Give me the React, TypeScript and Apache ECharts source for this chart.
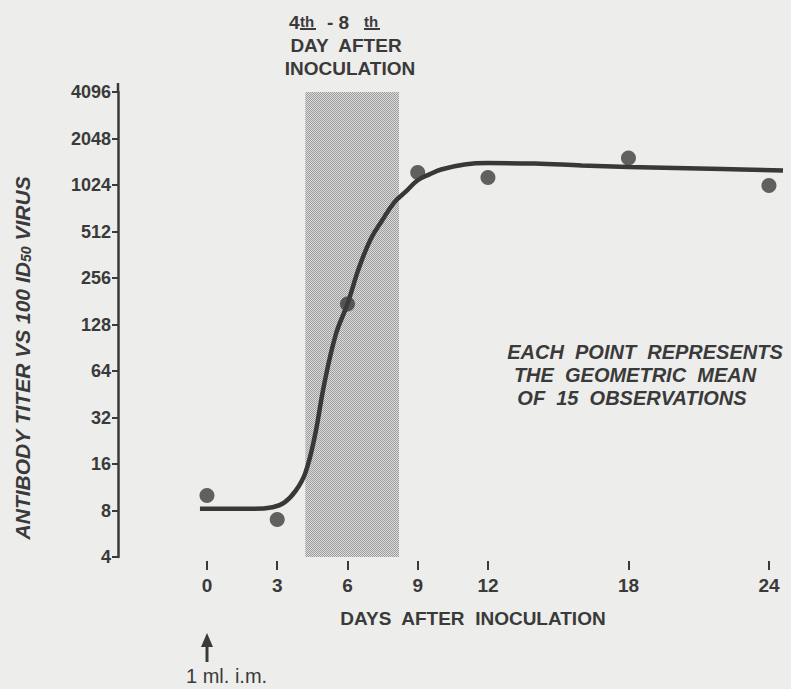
import React, { useEffect, useRef } from "react";
import * as echarts from "echarts";

// Observed geometric-mean titers
const days = [0, 3, 6, 9, 12, 18, 24];
const titers = [10, 7, 174, 1234, 1145, 1530, 1016];

// Hand-drawn smooth curve
const curveDays = [-0.3, 1, 2, 2.8, 3.3, 3.8, 4.2, 4.6, 5, 5.5, 6, 6.5, 7, 7.5, 8, 8.5, 9, 9.5, 10, 11, 12, 14, 16, 18, 20, 22, 24.6];
const curveTiters = [8.2, 8.2, 8.2, 8.4, 9.0, 10.8, 14, 24, 52, 110, 174, 300, 460, 610, 790, 930, 1100, 1200, 1290, 1390, 1420, 1410, 1370, 1340, 1320, 1300, 1270];

// Shaded period (4th-8th day)
const shadedDays = [4.2, 8.2];

// Axis ticks
const xTickDays = [0, 3, 6, 9, 12, 18, 24];
const yTickTiters = [4, 8, 16, 32, 64, 128, 256, 512, 1024, 2048, 4096];
const yMin = 4;
const yMax = 4096;

const INK = "#3a3a3a";
const FONT = "Liberation Sans";

function makePattern() {
  const c = document.createElement("canvas");
  c.width = 2;
  c.height = 2;
  const ctx = c.getContext("2d");
  if (ctx) {
    ctx.fillStyle = "#dcdcdc";
    ctx.fillRect(0, 0, 2, 2);
    ctx.fillStyle = "#9c9c9c";
    ctx.fillRect(0, 0, 1, 1);
    ctx.fillRect(1, 1, 1, 1);
  }
  return { image: c, repeat: "repeat" } as any;
}

export default function App() {
  const ref = useRef<HTMLDivElement>(null);

  useEffect(() => {
    if (!ref.current) return;
    const chart = echarts.init(ref.current, undefined, { renderer: "svg" });

    const txt = (x: number, y: number, text: string, size: number, extra: any = {}) => ({
      type: "text",
      x,
      y,
      style: {
        text,
        fontSize: size,
        fontWeight: "bold",
        fontFamily: FONT,
        fill: INK,
        textAlign: "center",
        textVerticalAlign: "middle",
        ...extra,
      },
    });

    const option: any = {
      animation: false,
      backgroundColor: "#ededeb",
      grid: {
        left: 118,
        right: 8,
        top: 92,
        bottom: 132,
        outerBoundsMode: "none",
      },
      xAxis: {
        type: "value",
        min: -3.8,
        max: 24.6,
        offset: 4,
        axisLine: { show: false, onZero: false },
        splitLine: { show: false },
        axisTick: {
          show: true,
          customValues: xTickDays,
          length: 9,
          lineStyle: { color: INK, width: 2 },
        },
        axisLabel: {
          customValues: xTickDays,
          margin: 15,
          fontSize: 19,
          fontWeight: "bold",
          fontFamily: FONT,
          color: INK,
        },
      },
      yAxis: {
        type: "log",
        logBase: 2,
        min: yMin,
        max: yMax,
        axisLine: { show: true, onZero: false, lineStyle: { color: INK, width: 2.5 } },
        axisTick: { show: true, customValues: yTickTiters, length: 6, lineStyle: { color: INK, width: 2 } },
        splitLine: { show: false },
        minorTick: { show: false },
        axisLabel: {
          customValues: yTickTiters,
          margin: 7,
          fontSize: 18,
          fontWeight: "bold",
          fontFamily: FONT,
          color: INK,
          formatter: (v: number) => String(Math.round(v)),
        },
      },
      series: [
        {
          type: "line",
          data: [],
          z: 1,
          silent: true,
          markArea: {
            silent: true,
            itemStyle: { color: makePattern(), opacity: 1 },
            data: [[{ xAxis: shadedDays[0], yAxis: yMin }, { xAxis: shadedDays[1], yAxis: yMax }]],
          },
        },
        {
          type: "line",
          data: curveDays.map((d, i) => [d, curveTiters[i]]),
          smooth: 0.4,
          showSymbol: false,
          symbol: "none",
          z: 3,
          lineStyle: { color: "#383838", width: 4.5 },
        },
        {
          type: "scatter",
          data: days.map((d, i) => [d, titers[i]]),
          symbolSize: 15,
          z: 4,
          itemStyle: { color: "#3c3c3c" },
        },
      ],
      graphic: [
        // small extension of the y axis above 4096
        { type: "line", shape: { x1: 118, y1: 83, x2: 118, y2: 92 }, style: { stroke: INK, lineWidth: 2.5 } },
        // y axis title (rotated)
        {
          type: "text",
          x: 22,
          y: 358,
          rotation: Math.PI / 2,
          style: {
            text: "ANTIBODY TITER VS 100 ID{sub|50} VIRUS",
            fontSize: 21,
            fontWeight: "bold",
            fontStyle: "italic",
            fontFamily: FONT,
            fill: INK,
            textAlign: "center",
            textVerticalAlign: "middle",
            rich: {
              sub: {
                fontSize: 14,
                fontWeight: "bold",
                fontStyle: "italic",
                fontFamily: FONT,
                fill: INK,
                verticalAlign: "bottom",
                padding: [8, 0, 0, 0],
              },
            },
          },
        },
        // top annotation
        txt(289, 22, "4", 19, { textAlign: "left" }),
        txt(300, 21, "th", 15, { textAlign: "left" }),
        { type: "line", shape: { x1: 300, y1: 29, x2: 316, y2: 29 }, style: { stroke: INK, lineWidth: 2 } },
        txt(327, 22, "- 8", 19, { textAlign: "left" }),
        txt(364, 21, "th", 15, { textAlign: "left" }),
        { type: "line", shape: { x1: 364, y1: 29, x2: 380, y2: 29 }, style: { stroke: INK, lineWidth: 2 } },
        txt(346, 45, "DAY  AFTER", 19),
        txt(350, 68, "INOCULATION", 19),
        // note
        txt(645, 352, "EACH  POINT  REPRESENTS", 20, { fontStyle: "italic" }),
        txt(635, 375, "THE  GEOMETRIC  MEAN", 20, { fontStyle: "italic" }),
        txt(632, 398, "OF  15  OBSERVATIONS", 20, { fontStyle: "italic" }),
        // x axis title
        txt(473, 618, "DAYS  AFTER  INOCULATION", 19),
        // inoculation arrow
        { type: "line", shape: { x1: 207, y1: 662, x2: 207, y2: 644 }, style: { stroke: INK, lineWidth: 3 } },
        { type: "polygon", shape: { points: [[207, 633], [201, 647], [213, 647]] }, style: { fill: INK } },
        txt(186, 676, "1 ml. i.m.", 20, { textAlign: "left", fontWeight: "normal" }),
      ],
    };

    chart.setOption(option);
    return () => chart.dispose();
  }, []);

  return (
    <div
      ref={ref}
      style={{ position: "fixed", left: 0, top: 0, width: 791, height: 689 }}
    />
  );
}
